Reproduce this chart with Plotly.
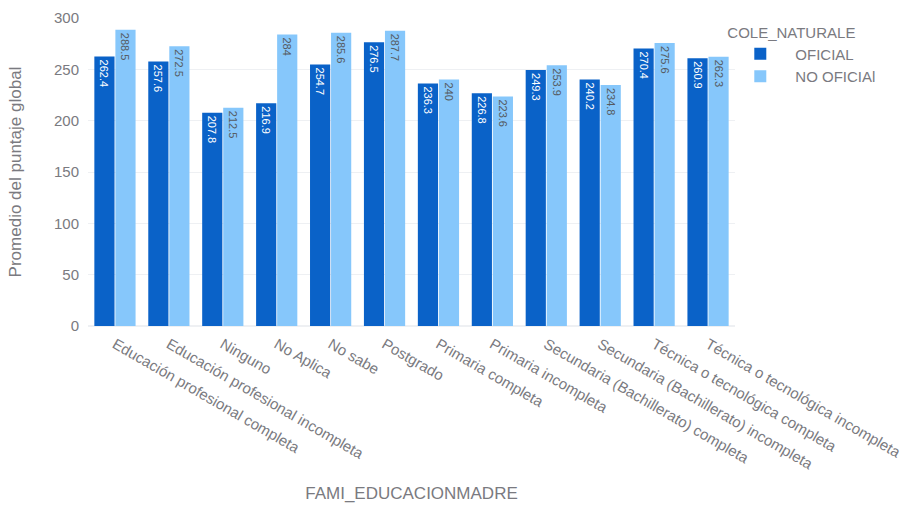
import plotly.graph_objects as go

categorias = [
    "Educación profesional completa",
    "Educación profesional incompleta",
    "Ninguno",
    "No Aplica",
    "No sabe",
    "Postgrado",
    "Primaria completa",
    "Primaria incompleta",
    "Secundaria (Bachillerato) completa",
    "Secundaria (Bachillerato) incompleta",
    "Técnica o tecnológica completa",
    "Técnica o tecnológica incompleta",
]
oficial = [262.4, 257.6, 207.8, 216.9, 254.7, 276.5, 236.3, 226.8, 249.3, 240.2, 270.4, 260.9]
no_oficial = [288.5, 272.5, 212.5, 284, 285.6, 287.7, 240, 223.6, 253.9, 234.8, 275.6, 262.3]

gris = "#7a7a80"
fuente = "Liberation Sans, Arial, sans-serif"

fig = go.Figure()
fig.add_trace(go.Bar(
    name="OFICIAL", x=categorias, y=oficial,
    marker=dict(color="#0a62c8", line=dict(width=0)),
    text=[f"{v:g}" for v in oficial], textposition="inside",
    insidetextanchor="end", textangle=90,
    textfont=dict(color="white", size=11, family=fuente),
))
fig.add_trace(go.Bar(
    name="NO OFICIAl", x=categorias, y=no_oficial,
    marker=dict(color="#86c7fb", line=dict(width=0)),
    text=[f"{v:g}" for v in no_oficial], textposition="inside",
    insidetextanchor="end", textangle=90,
    textfont=dict(color="#555a60", size=11, family=fuente),
))

fig.update_layout(
    width=912, height=508,
    margin=dict(l=88, r=177, t=18, b=182, autoexpand=False),
    paper_bgcolor="white", plot_bgcolor="white",
    font=dict(family=fuente, color=gris, size=15),
    barmode="group", bargap=0.22, bargroupgap=0.04,
    uniformtext=dict(minsize=8, mode="show"),
    legend=dict(
        title=dict(text="COLE_NATURALE", font=dict(size=15, color=gris)),
        x=0.985, y=1.0, xanchor="left", yanchor="top",
        font=dict(size=15, color=gris),
        bgcolor="rgba(0,0,0,0)",
        itemwidth=60,
        tracegroupgap=0,
    ),
    xaxis=dict(
        title=dict(text="FAMI_EDUCACIONMADRE", font=dict(size=17, color=gris)),
        tickangle=30, tickfont=dict(size=15, color=gris),
        showgrid=False, showline=False, ticks="",
        automargin=False, ticklabelstandoff=6,
    ),
    yaxis=dict(
        title=dict(text="Promedio del puntaje global", font=dict(size=17, color=gris), standoff=28),
        range=[0, 300], dtick=50, gridcolor="#eef0f3",
        zeroline=True, zerolinecolor="#eef0f3",
        tickfont=dict(size=15, color=gris),
        automargin=False, ticklabelstandoff=8,
    ),
)

fig.write_html("out.html")
